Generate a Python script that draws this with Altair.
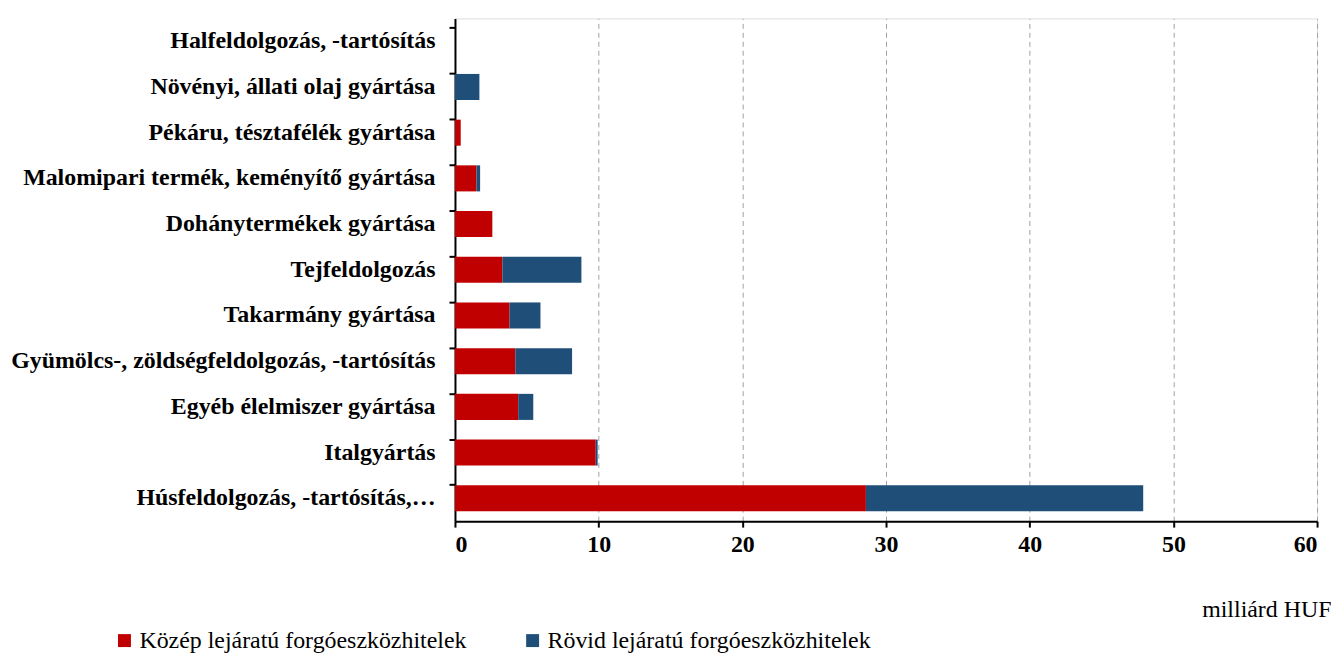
import altair as alt
import pandas as pd

categories = [
    "Halfeldolgozás, -tartósítás",
    "Növényi, állati olaj gyártása",
    "Pékáru, tésztafélék gyártása",
    "Malomipari termék, keményítő gyártása",
    "Dohánytermékek gyártása",
    "Tejfeldolgozás",
    "Takarmány gyártása",
    "Gyümölcs-, zöldségfeldolgozás, -tartósítás",
    "Egyéb élelmiszer gyártása",
    "Italgyártás",
    "Húsfeldolgozás, -tartósítás,…",
]
kozep = [0.0, 0.0, 0.4, 1.5, 2.6, 3.3, 3.8, 4.2, 4.4, 9.8, 28.6]
rovid = [0.0, 1.7, 0.0, 0.25, 0.0, 5.5, 2.15, 3.95, 1.05, 0.13, 19.3]
series = ["Közép lejáratú forgóeszközhitelek", "Rövid lejáratú forgóeszközhitelek"]
colors = ["#C00000", "#1F4E79"]

rows = []
for c, k, r in zip(categories, kozep, rovid):
    rows.append({"cat": c, "series": series[0], "value": k, "ord": 0})
    rows.append({"cat": c, "series": series[1], "value": r, "ord": 1})
df = pd.DataFrame(rows)

font = "Liberation Serif"

chart = alt.Chart(df).mark_bar().encode(
    y=alt.Y("cat:N", sort=categories, title=None,
            scale=alt.Scale(paddingInner=0.43, paddingOuter=0.215),
            axis=alt.Axis(bandPosition=0, labelFont=font, labelFontSize=24,
                          labelFontWeight="bold", labelColor="black",
                          labelPadding=14, labelLimit=800,
                          domainColor="black", domainWidth=2,
                          tickColor="black", tickWidth=2, tickSize=6,
                          grid=False)),
    x=alt.X("value:Q", stack="zero", title="milliárd HUF",
            scale=alt.Scale(domain=[0, 60], nice=False),
            axis=alt.Axis(values=[0, 10, 20, 30, 40, 50, 60], format="d",
                          labelFont=font, labelFontSize=24, labelFontWeight="bold",
                          labelColor="black", labelPadding=6,
                          domainColor="black", domainWidth=2,
                          tickColor="black", tickWidth=2, tickSize=6,
                          grid=True, gridColor="#A0A0A0", gridDash=[5, 4],
                          gridWidth=1,
                          titleFont=font, titleFontSize=24, titleFontWeight="normal",
                          titleColor="black", titleAnchor="end", titlePadding=41,
                          titleX=866 + 14, titleAlign="right")),
    color=alt.Color("series:N", sort=series,
                    scale=alt.Scale(domain=series, range=colors),
                    legend=alt.Legend(title=None, orient="none", direction="horizontal",
                                      legendX=-344, legendY=613,
                                      labelFont=font, labelFontSize=24,
                                      labelColor="black", symbolType="square",
                                      symbolSize=169, symbolStrokeWidth=0,
                                      symbolOpacity=1,
                                      columnPadding=54, labelOffset=3,
                                      labelLimit=800)),
    order=alt.Order("ord:Q"),
).properties(width=866, height=505, padding={"left": 2, "top": 9, "right": 0, "bottom": 0}
).configure_view(stroke=None).configure(background="white")

chart.save("out.html", embed_options={"renderer": "svg", "actions": False})
